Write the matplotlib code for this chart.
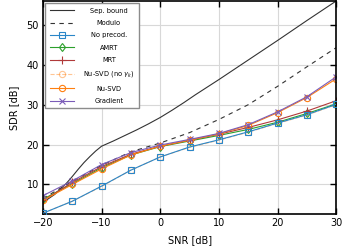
import numpy as np
import matplotlib
matplotlib.use("Agg")
import matplotlib.pyplot as plt

# data
snr = [-20, -15, -10, -5, 0, 5, 10, 15, 20, 25, 30]
sep_snr = [-20, -18, -16, -15, -14, -13, -12, -11, -10, -8, -6, -4, -2, 0,
           2, 4, 6, 8, 10, 15, 20, 25, 30]
sep_bound = [5.5, 7.5, 10.3, 12.0, 13.8, 15.5, 17.0, 18.4, 19.6, 20.9, 22.3,
             23.7, 25.2, 26.8, 28.6, 30.5, 32.5, 34.4, 36.3, 41.2, 46.1, 51.1, 56.0]
modulo = [6.5, 10.8, 14.8, 18.2, 20.4, 23.0, 26.3, 30.0, 34.6, 39.5, 44.3]
no_precod = [2.8, 5.8, 9.6, 13.6, 16.9, 19.4, 21.2, 23.2, 25.4, 27.5, 30.1]
amrt = [6.3, 10.2, 14.2, 17.4, 19.5, 20.9, 22.3, 23.8, 25.6, 27.8, 30.2]
mrt = [6.0, 10.5, 14.5, 17.6, 19.6, 21.1, 22.6, 24.3, 26.2, 28.4, 31.0]
nusvd_nogamma = [2.8, 5.8, 9.5, 13.6, 16.9, 19.3, 21.1, 23.1, 25.3, 27.4, 30.0]
nusvd = [6.0, 10.0, 13.9, 17.4, 19.6, 21.1, 22.7, 24.8, 28.0, 31.8, 36.5]
gradient = [7.2, 10.9, 15.0, 18.0, 19.9, 21.3, 22.8, 25.0, 28.2, 32.0, 37.0]

fig = plt.figure(figsize=(3.55, 2.5), dpi=100)
ax = fig.add_axes([0.121, 0.144, 0.826, 0.852])

lw = 0.8
ms = 4.5
ax.plot(sep_snr, sep_bound, color="0.2", lw=lw, label="Sep. bound")
ax.plot(snr, modulo, color="0.2", lw=lw, ls=(0, (4, 4)), label="Modulo")
ax.plot(snr, no_precod, color="#2a86c8", lw=lw, marker="s", ms=ms,
        mfc="none", mew=0.8, label="No precod.", zorder=3)
ax.plot(snr, amrt, color="#2ca02c", lw=lw, marker="d", ms=ms,
        mfc="none", mew=0.8, label="AMRT")
ax.plot(snr, mrt, color="#b03a3a", lw=lw, marker="+", ms=ms + 1,
        mew=0.8, label="MRT")
ax.plot(snr, nusvd_nogamma, color="#ff7f0e", lw=lw, ls="--", alpha=0.45,
        marker="o", ms=ms, mfc="none", mew=0.8, label=r"Nu-SVD (no $\gamma_k$)",
        zorder=1.9)
ax.plot(snr, nusvd, color="#ff7f0e", lw=lw, marker="o", ms=ms,
        mfc="none", mew=0.8, label="Nu-SVD")
ax.plot(snr, gradient, color="#7b5cb8", lw=lw, marker="x", ms=ms,
        mew=0.8, label="Gradient")

ax.set_xlim(-20, 30)
ax.set_ylim(2.6, 56)
ax.set_xticks([-20, -10, 0, 10, 20, 30])
ax.set_yticks([10, 20, 30, 40, 50])
ax.grid(True, color="#d8d8d8", lw=0.8)
ax.set_axisbelow(True)
ax.tick_params(direction="in", top=True, right=True, length=4, width=1,
               labelsize=7, pad=3)
for s in ax.spines.values():
    s.set_linewidth(1.2)
ax.set_xlabel("SNR [dB]", fontsize=7, labelpad=5)
ax.set_ylabel("SDR [dB]", fontsize=7, labelpad=5)

leg = ax.legend(loc="upper left", fontsize=4.8, handlelength=3.6,
                labelspacing=0.95, borderaxespad=0.35, borderpad=0.65,
                handletextpad=1.45, fancybox=False, framealpha=1,
                edgecolor="0.55")
leg.get_frame().set_linewidth(1.0)

# center the legend labels like in the reference
fig.canvas.draw()
texts = leg.get_texts()
widths = [t.get_window_extent().width for t in texts]
maxw = max(widths)
for t, w in zip(texts, widths):
    t.set_position(((maxw - w) / 2, 0))

fig.savefig("out.png", dpi=100)
